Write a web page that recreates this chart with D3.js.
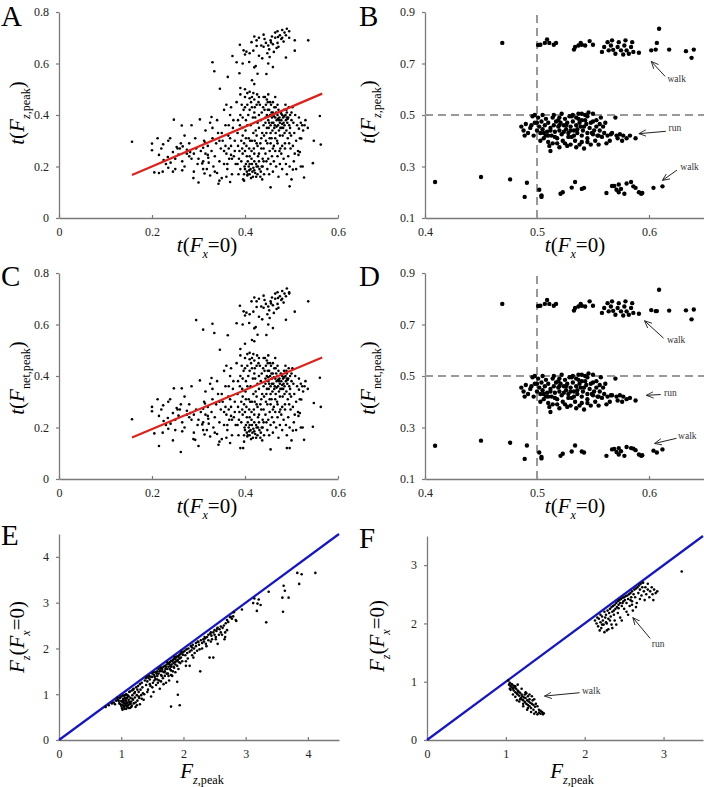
<!DOCTYPE html>
<html><head><meta charset="utf-8">
<script src="https://cdn.jsdelivr.net/npm/d3@7"></script>
<style>body{margin:0;background:#fff}svg{display:block}svg text{font-family:"Liberation Serif","Times New Roman","DejaVu Serif",serif}</style>
</head><body><svg id="c" width="704" height="787"></svg>
<script>
// ---------- DATA ----------
const ticksA = [0, 0.2, 0.4, 0.6], ticksAy = [0, 0.2, 0.4, 0.6, 0.8];
const ticksB = [0.4, 0.5, 0.6], ticksBy = [0.1, 0.3, 0.5, 0.7, 0.9];
const ticksE = [0, 1, 2, 3, 4], ticksF = [0, 1, 2, 3];

const pointsA = [
[0.157,0.296],[0.20,0.289],[0.20,0.263],[0.212,0.31],[0.205,0.177],[0.215,0.175],[0.223,0.18],[0.224,0.286],[0.239,0.31],[0.247,0.382],[0.234,0.237],[0.245,0.256],[0.253,0.276],[0.257,0.246],[0.264,0.359],[0.266,0.278],[0.275,0.25],[0.285,0.36],[0.282,0.256],[0.293,0.31],[0.289,0.155],[0.30,0.138],[0.303,0.383],[0.31,0.273],[0.308,0.212],[0.313,0.173],[0.314,0.293],[0.321,0.234],[0.328,0.392],[0.33,0.605],[0.334,0.57],[0.343,0.133],[0.346,0.502],[0.363,0.548],[0.368,0.14],[0.373,0.629],[0.388,0.562],[0.389,0.673],[0.382,0.605],[0.397,0.651],[0.403,0.646],[0.409,0.606],[0.414,0.683],[0.425,0.668],[0.423,0.59],[0.427,0.56],[0.44,0.712],[0.446,0.559],[0.453,0.625],[0.46,0.586],[0.471,0.703],[0.488,0.623],[0.495,0.725],[0.507,0.69],[0.507,0.65],[0.536,0.69],[0.561,0.396],[0.563,0.285],[0.546,0.213],[0.548,0.3],[0.527,0.157],[0.496,0.123],[0.455,0.119],[0.521,0.309],[0.518,0.256],[0.524,0.2],[0.503,0.188],[0.516,0.347],
[0.225,0.225],[0.23,0.21],[0.235,0.195],[0.24,0.215],[0.245,0.18],[0.25,0.23],[0.255,0.27],[0.26,0.27],[0.262,0.29],[0.265,0.22],[0.27,0.2],[0.275,0.265],[0.28,0.24],[0.285,0.23],[0.29,0.25],[0.295,0.27],[0.298,0.21],[0.27,0.32],[0.28,0.29],[0.235,0.30],[0.22,0.27],[0.215,0.245],[0.25,0.19],[0.265,0.185],[0.29,0.18],[0.30,0.23],
[0.305,0.26],[0.31,0.22],[0.312,0.30],[0.315,0.25],[0.318,0.19],[0.32,0.28],[0.322,0.215],[0.325,0.165],[0.328,0.26],[0.33,0.31],[0.332,0.20],[0.335,0.24],[0.338,0.29],[0.34,0.175],[0.342,0.33],[0.345,0.22],[0.348,0.27],[0.35,0.155],[0.352,0.30],[0.355,0.21],[0.358,0.36],[0.36,0.25],[0.362,0.19],[0.364,0.32],[0.366,0.23],[0.368,0.40],[0.37,0.28],[0.372,0.17],[0.374,0.35],[0.376,0.24],[0.378,0.30],[0.38,0.21],[0.34,0.38],[0.355,0.42],[0.36,0.44],[0.37,0.43],[0.33,0.35],[0.325,0.37],[0.315,0.34],[0.345,0.145],[0.36,0.16],[0.365,0.27],[0.355,0.26],[0.372,0.23],[0.345,0.30],[0.335,0.18],[0.32,0.245],[0.31,0.19],[0.362,0.21],[0.37,0.245],[0.378,0.26],[0.35,0.33],[0.375,0.38],[0.365,0.36],[0.358,0.28],[0.368,0.31],
[0.382,0.45],[0.384,0.33],[0.386,0.17],[0.388,0.26],[0.39,0.40],[0.392,0.22],[0.394,0.35],[0.396,0.15],[0.398,0.29],[0.40,0.47],[0.40,0.19],[0.402,0.38],[0.404,0.24],[0.405,0.44],[0.406,0.17],[0.408,0.31],[0.41,0.49],[0.41,0.21],[0.412,0.36],[0.414,0.26],[0.415,0.43],[0.416,0.18],[0.418,0.33],[0.42,0.46],[0.42,0.22],[0.422,0.39],[0.424,0.16],[0.425,0.29],[0.426,0.48],[0.428,0.20],[0.43,0.35],[0.43,0.25],[0.432,0.44],[0.434,0.18],[0.435,0.31],[0.436,0.41],[0.438,0.23],[0.44,0.47],[0.44,0.27],[0.39,0.48],[0.385,0.38],[0.392,0.30],[0.395,0.25],[0.397,0.42],[0.399,0.20],[0.401,0.34],[0.403,0.28],[0.406,0.22],[0.407,0.40],[0.409,0.185],[0.411,0.30],[0.413,0.45],[0.414,0.23],[0.417,0.39],[0.418,0.195],[0.419,0.27],[0.421,0.43],[0.423,0.34],[0.424,0.21],[0.427,0.37],[0.428,0.24],[0.429,0.45],[0.431,0.19],[0.433,0.29],[0.434,0.38],[0.437,0.33],[0.438,0.20],[0.439,0.43],[0.441,0.17],[0.384,0.21],[0.389,0.36],[0.393,0.44],[0.398,0.17],[0.402,0.21],[0.404,0.18],[0.408,0.20],[0.41,0.17],[0.412,0.19],[0.415,0.21],[0.417,0.16],[0.42,0.185],[0.422,0.175],[0.425,0.20],[0.427,0.17],[0.43,0.22],[0.433,0.16],[0.436,0.20],[0.405,0.165],[0.413,0.155],[0.41,0.24],[0.42,0.25],[0.40,0.26],[0.395,0.32],[0.425,0.32],[0.415,0.30],[0.435,0.27],[0.43,0.40],[0.42,0.41],[0.41,0.42],[0.40,0.43],[0.395,0.39],[0.405,0.36],[0.415,0.47],[0.425,0.44],[0.41,0.465],[0.405,0.485],[0.418,0.485],[0.43,0.47],[0.42,0.52],[0.415,0.535],[0.39,0.505],[0.40,0.50],[0.385,0.28],[0.39,0.19],[0.387,0.23],[0.398,0.145],[0.402,0.31],[0.427,0.28],[0.44,0.36],[0.437,0.15],[0.44,0.22],[0.421,0.30],[0.409,0.27],[0.394,0.27],
[0.442,0.42],[0.444,0.37],[0.445,0.44],[0.446,0.33],[0.447,0.40],[0.448,0.29],[0.449,0.45],[0.45,0.38],[0.451,0.35],[0.452,0.42],[0.453,0.26],[0.454,0.40],[0.455,0.36],[0.456,0.44],[0.457,0.31],[0.458,0.39],[0.459,0.34],[0.46,0.41],[0.461,0.37],[0.462,0.28],[0.463,0.43],[0.464,0.36],[0.465,0.39],[0.466,0.33],[0.467,0.41],[0.468,0.38],[0.469,0.30],[0.47,0.40],[0.471,0.36],[0.472,0.42],[0.473,0.34],[0.474,0.39],[0.475,0.37],[0.476,0.27],[0.477,0.41],[0.478,0.38],[0.479,0.35],[0.48,0.40],[0.481,0.32],[0.482,0.39],[0.483,0.37],[0.484,0.42],[0.485,0.36],[0.486,0.29],[0.487,0.40],[0.488,0.38],[0.489,0.34],[0.49,0.41],[0.491,0.37],[0.492,0.31],[0.493,0.39],[0.494,0.43],[0.495,0.36],[0.496,0.33],[0.497,0.40],[0.498,0.27],[0.50,0.38],[0.443,0.47],[0.447,0.46],[0.45,0.48],[0.444,0.25],[0.446,0.22],[0.448,0.19],[0.45,0.23],[0.452,0.17],[0.455,0.21],[0.458,0.24],[0.46,0.18],[0.462,0.22],[0.465,0.26],[0.467,0.20],[0.47,0.24],[0.472,0.16],[0.475,0.21],[0.478,0.25],[0.48,0.19],[0.483,0.23],[0.486,0.27],[0.488,0.21],[0.49,0.17],[0.493,0.24],[0.496,0.20],[0.50,0.15],[0.445,0.30],[0.455,0.29],[0.465,0.31],[0.475,0.32],[0.485,0.33],[0.46,0.45],[0.47,0.44],[0.455,0.33],[0.463,0.35],[0.473,0.38],[0.482,0.35],[0.449,0.42],[0.457,0.41],[0.466,0.43],[0.476,0.35],[0.487,0.44],[0.49,0.39],[0.50,0.41],[0.452,0.37],[0.447,0.35],[0.45,0.395],[0.458,0.37],[0.462,0.395],[0.468,0.355],[0.471,0.385],[0.478,0.405],[0.48,0.365],[0.484,0.395],[0.489,0.42],[0.492,0.385],[0.497,0.35],[0.46,0.27],[0.47,0.29],[0.48,0.28],[0.474,0.26],[0.453,0.31],[0.444,0.39],[0.441,0.32],[0.495,0.29],[0.499,0.32],[0.454,0.45],[0.465,0.47],
[0.502,0.43],[0.504,0.37],[0.506,0.33],[0.508,0.40],[0.51,0.30],[0.512,0.36],[0.514,0.26],[0.516,0.39],[0.505,0.22],[0.51,0.19],[0.515,0.245],[0.52,0.37],[0.518,0.31],[0.503,0.28],[0.507,0.25],[0.52,0.20],[0.523,0.36],[0.525,0.34],[0.528,0.36],[0.53,0.38],[0.535,0.35],
[0.445,0.68],[0.45,0.67],[0.455,0.69],[0.46,0.675],[0.465,0.70],[0.47,0.68],[0.475,0.71],[0.48,0.70],[0.485,0.72],[0.49,0.735],[0.478,0.695],[0.468,0.66],[0.452,0.655],[0.442,0.695],[0.458,0.705],[0.472,0.665],[0.483,0.685],[0.462,0.645],[0.448,0.64],[0.43,0.70],[0.435,0.67],[0.425,0.69],[0.42,0.705],[0.495,0.70],[0.488,0.71],[0.47,0.725],[0.48,0.73],[0.465,0.72],[0.44,0.665],[0.456,0.682],[0.418,0.65],[0.41,0.64],[0.43,0.63],[0.395,0.60],[0.40,0.635],[0.42,0.585],[0.437,0.62],[0.45,0.60]
];

const pointsC = [
[0.157,0.232],[0.20,0.28],[0.20,0.263],[0.212,0.31],[0.205,0.177],[0.215,0.128],[0.223,0.18],[0.224,0.286],[0.239,0.31],[0.247,0.352],[0.234,0.237],[0.245,0.256],[0.253,0.276],[0.257,0.246],[0.264,0.352],[0.262,0.105],[0.275,0.25],[0.285,0.36],[0.282,0.256],[0.293,0.152],[0.289,0.155],[0.30,0.128],[0.303,0.383],[0.31,0.273],[0.308,0.212],[0.313,0.173],[0.314,0.293],[0.321,0.234],[0.328,0.392],[0.33,0.603],[0.334,0.567],[0.343,0.133],[0.346,0.502],[0.363,0.558],[0.368,0.14],[0.295,0.617],[0.31,0.58],[0.389,0.673],[0.382,0.605],[0.397,0.651],[0.403,0.646],[0.409,0.606],[0.414,0.69],[0.425,0.668],[0.423,0.59],[0.427,0.56],[0.44,0.712],[0.446,0.559],[0.453,0.625],[0.46,0.586],[0.471,0.703],[0.488,0.618],[0.495,0.725],[0.507,0.65],[0.536,0.69],[0.561,0.393],[0.563,0.28],[0.546,0.203],[0.548,0.295],[0.527,0.152],[0.496,0.12],[0.455,0.115],[0.521,0.309],[0.518,0.256],[0.524,0.2],[0.503,0.188],[0.516,0.347],[0.49,0.12],
[0.225,0.225],[0.23,0.21],[0.235,0.195],[0.24,0.215],[0.245,0.15],[0.25,0.23],[0.255,0.27],[0.26,0.27],[0.262,0.29],[0.265,0.22],[0.27,0.2],[0.275,0.265],[0.28,0.24],[0.285,0.23],[0.29,0.25],[0.295,0.27],[0.298,0.21],[0.27,0.32],[0.28,0.29],[0.235,0.30],[0.22,0.27],[0.215,0.245],[0.25,0.19],[0.265,0.185],[0.29,0.18],[0.30,0.23],
[0.305,0.26],[0.31,0.22],[0.312,0.30],[0.315,0.25],[0.318,0.19],[0.32,0.28],[0.322,0.215],[0.325,0.165],[0.328,0.26],[0.33,0.31],[0.332,0.20],[0.335,0.24],[0.338,0.29],[0.34,0.175],[0.342,0.33],[0.345,0.22],[0.348,0.27],[0.35,0.155],[0.352,0.30],[0.355,0.21],[0.358,0.36],[0.36,0.25],[0.362,0.19],[0.364,0.32],[0.366,0.23],[0.368,0.40],[0.37,0.28],[0.372,0.17],[0.374,0.35],[0.376,0.24],[0.378,0.30],[0.38,0.21],[0.34,0.38],[0.355,0.42],[0.36,0.44],[0.37,0.43],[0.33,0.35],[0.325,0.37],[0.315,0.34],[0.345,0.145],[0.36,0.16],[0.365,0.27],[0.355,0.26],[0.372,0.23],[0.345,0.30],[0.335,0.18],[0.32,0.245],[0.31,0.19],[0.362,0.21],[0.37,0.245],[0.378,0.26],[0.35,0.33],[0.375,0.38],[0.365,0.36],[0.358,0.28],[0.368,0.31],
[0.382,0.45],[0.384,0.33],[0.386,0.17],[0.388,0.26],[0.39,0.40],[0.392,0.22],[0.394,0.35],[0.396,0.12],[0.398,0.29],[0.40,0.47],[0.40,0.19],[0.402,0.38],[0.404,0.24],[0.405,0.44],[0.406,0.17],[0.408,0.31],[0.41,0.49],[0.41,0.21],[0.412,0.36],[0.414,0.26],[0.415,0.43],[0.416,0.18],[0.418,0.33],[0.42,0.46],[0.42,0.22],[0.422,0.39],[0.424,0.16],[0.425,0.29],[0.426,0.48],[0.428,0.20],[0.43,0.35],[0.43,0.25],[0.432,0.44],[0.434,0.18],[0.435,0.31],[0.436,0.41],[0.438,0.23],[0.44,0.47],[0.44,0.27],[0.39,0.48],[0.385,0.38],[0.392,0.30],[0.395,0.25],[0.397,0.42],[0.399,0.20],[0.401,0.34],[0.403,0.28],[0.406,0.22],[0.407,0.40],[0.409,0.185],[0.411,0.30],[0.413,0.45],[0.414,0.23],[0.417,0.39],[0.418,0.195],[0.419,0.27],[0.421,0.43],[0.423,0.34],[0.424,0.21],[0.427,0.37],[0.428,0.24],[0.429,0.45],[0.431,0.19],[0.433,0.29],[0.434,0.38],[0.437,0.33],[0.438,0.20],[0.439,0.43],[0.441,0.17],[0.384,0.21],[0.389,0.36],[0.393,0.44],[0.398,0.17],[0.402,0.21],[0.404,0.18],[0.408,0.20],[0.41,0.17],[0.412,0.19],[0.415,0.21],[0.417,0.16],[0.42,0.185],[0.422,0.175],[0.425,0.20],[0.427,0.17],[0.43,0.22],[0.433,0.16],[0.436,0.20],[0.405,0.165],[0.413,0.155],[0.41,0.24],[0.42,0.25],[0.40,0.26],[0.395,0.32],[0.425,0.32],[0.415,0.30],[0.435,0.27],[0.43,0.40],[0.42,0.41],[0.41,0.42],[0.40,0.43],[0.395,0.39],[0.405,0.36],[0.415,0.47],[0.425,0.44],[0.41,0.465],[0.405,0.485],[0.418,0.485],[0.43,0.47],[0.42,0.535],[0.415,0.54],[0.39,0.505],[0.40,0.525],[0.385,0.28],[0.39,0.12],[0.387,0.23],[0.398,0.145],[0.402,0.31],[0.427,0.28],[0.44,0.36],[0.437,0.15],[0.44,0.22],[0.421,0.30],[0.409,0.27],[0.394,0.27],
[0.442,0.42],[0.444,0.37],[0.445,0.44],[0.446,0.33],[0.447,0.40],[0.448,0.29],[0.449,0.45],[0.45,0.38],[0.451,0.35],[0.452,0.42],[0.453,0.26],[0.454,0.40],[0.455,0.36],[0.456,0.44],[0.457,0.31],[0.458,0.39],[0.459,0.34],[0.46,0.41],[0.461,0.37],[0.462,0.28],[0.463,0.43],[0.464,0.36],[0.465,0.39],[0.466,0.33],[0.467,0.41],[0.468,0.38],[0.469,0.30],[0.47,0.40],[0.471,0.36],[0.472,0.42],[0.473,0.34],[0.474,0.39],[0.475,0.37],[0.476,0.27],[0.477,0.41],[0.478,0.38],[0.479,0.35],[0.48,0.40],[0.481,0.32],[0.482,0.39],[0.483,0.37],[0.484,0.42],[0.485,0.36],[0.486,0.29],[0.487,0.40],[0.488,0.38],[0.489,0.34],[0.49,0.41],[0.491,0.37],[0.492,0.31],[0.493,0.39],[0.494,0.43],[0.495,0.36],[0.496,0.33],[0.497,0.40],[0.498,0.27],[0.50,0.38],[0.443,0.47],[0.447,0.46],[0.45,0.48],[0.444,0.25],[0.446,0.22],[0.448,0.19],[0.45,0.23],[0.452,0.17],[0.455,0.21],[0.458,0.24],[0.46,0.18],[0.462,0.22],[0.465,0.26],[0.467,0.20],[0.47,0.24],[0.472,0.16],[0.475,0.21],[0.478,0.25],[0.48,0.19],[0.483,0.23],[0.486,0.27],[0.488,0.21],[0.49,0.17],[0.493,0.24],[0.496,0.20],[0.50,0.15],[0.445,0.30],[0.455,0.29],[0.465,0.31],[0.475,0.32],[0.485,0.33],[0.46,0.45],[0.47,0.44],[0.455,0.33],[0.463,0.35],[0.473,0.38],[0.482,0.35],[0.449,0.42],[0.457,0.41],[0.466,0.43],[0.476,0.35],[0.487,0.44],[0.49,0.39],[0.50,0.41],[0.452,0.37],[0.447,0.35],[0.45,0.395],[0.458,0.37],[0.462,0.395],[0.468,0.355],[0.471,0.385],[0.478,0.405],[0.48,0.365],[0.484,0.395],[0.489,0.42],[0.492,0.385],[0.497,0.35],[0.46,0.27],[0.47,0.29],[0.48,0.28],[0.474,0.26],[0.453,0.31],[0.444,0.39],[0.441,0.32],[0.495,0.29],[0.499,0.32],[0.454,0.45],[0.465,0.47],
[0.502,0.43],[0.504,0.37],[0.506,0.33],[0.508,0.40],[0.51,0.30],[0.512,0.36],[0.514,0.26],[0.516,0.39],[0.505,0.22],[0.51,0.19],[0.515,0.245],[0.52,0.37],[0.518,0.31],[0.503,0.28],[0.507,0.25],[0.52,0.20],[0.523,0.36],[0.525,0.34],[0.528,0.36],[0.53,0.38],[0.535,0.35],
[0.445,0.68],[0.45,0.67],[0.455,0.69],[0.46,0.675],[0.465,0.70],[0.47,0.68],[0.475,0.71],[0.48,0.70],[0.485,0.72],[0.49,0.74],[0.478,0.695],[0.468,0.66],[0.452,0.655],[0.442,0.695],[0.458,0.705],[0.472,0.665],[0.483,0.685],[0.462,0.645],[0.448,0.64],[0.43,0.70],[0.435,0.67],[0.425,0.69],[0.42,0.705],[0.495,0.72],[0.488,0.71],[0.47,0.725],[0.48,0.73],[0.465,0.72],[0.44,0.665],[0.456,0.682],[0.418,0.65],[0.41,0.64],[0.43,0.63],[0.395,0.60],[0.40,0.635],[0.42,0.585],[0.437,0.62],[0.45,0.60]
];

const fitA = {x: [0.157, 0.566], y: [0.167, 0.483]};
const fitC = {x: [0.157, 0.566], y: [0.161, 0.472]};

const walkTopB = [[0.469,0.78],[0.501,0.772],[0.503,0.773],[0.507,0.78],[0.509,0.793],[0.511,0.78],[0.517,0.78],[0.515,0.773],[0.533,0.754],[0.534,0.764],[0.537,0.77],[0.539,0.78],[0.540,0.773],[0.543,0.77],[0.547,0.787],[0.550,0.773],[0.558,0.745],[0.56,0.764],[0.563,0.783],[0.564,0.751],[0.566,0.77],[0.567,0.79],[0.568,0.753],[0.570,0.738],[0.572,0.764],[0.573,0.783],[0.575,0.751],[0.577,0.735],[0.578,0.77],[0.579,0.79],[0.58,0.751],[0.582,0.738],[0.584,0.764],[0.585,0.783],[0.586,0.745],[0.591,0.742],[0.602,0.751],[0.606,0.754],[0.607,0.78],[0.609,0.835],[0.618,0.754],[0.633,0.748],[0.638,0.722],[0.64,0.754]];
const runB = [[0.486,0.455],[0.488,0.44],[0.49,0.465],[0.492,0.43],[0.494,0.45],[0.496,0.495],[0.497,0.42],[0.498,0.47],[0.50,0.44],[0.501,0.49],[0.502,0.455],[0.503,0.43],[0.504,0.475],[0.505,0.445],[0.506,0.41],[0.507,0.46],[0.508,0.485],[0.509,0.435],[0.51,0.395],[0.51,0.47],[0.511,0.38],[0.512,0.45],[0.513,0.42],[0.514,0.49],[0.515,0.46],[0.516,0.435],[0.517,0.475],[0.518,0.41],[0.519,0.455],[0.52,0.49],[0.52,0.44],[0.521,0.47],[0.522,0.425],[0.523,0.40],[0.524,0.46],[0.525,0.485],[0.526,0.445],[0.527,0.38],[0.527,0.47],[0.528,0.43],[0.529,0.495],[0.53,0.455],[0.53,0.385],[0.531,0.415],[0.532,0.475],[0.533,0.44],[0.534,0.40],[0.535,0.49],[0.535,0.46],[0.536,0.43],[0.537,0.505],[0.538,0.385],[0.539,0.455],[0.54,0.48],[0.54,0.42],[0.541,0.44],[0.542,0.37],[0.543,0.50],[0.544,0.465],[0.545,0.41],[0.546,0.51],[0.547,0.45],[0.548,0.385],[0.549,0.43],[0.55,0.475],[0.551,0.44],[0.552,0.40],[0.553,0.455],[0.554,0.42],[0.555,0.385],[0.556,0.44],[0.557,0.49],[0.558,0.415],[0.56,0.43],[0.562,0.39],[0.563,0.42],[0.565,0.40],[0.567,0.43],[0.57,0.49],[0.571,0.42],[0.572,0.41],[0.574,0.425],[0.576,0.40],[0.577,0.42],[0.58,0.41],[0.583,0.42],[0.588,0.41],[0.512,0.36],[0.505,0.50],[0.498,0.50],[0.515,0.50],[0.522,0.505],[0.532,0.50],[0.54,0.505],[0.545,0.495],[0.55,0.505],[0.525,0.39],[0.535,0.375],[0.545,0.395],[0.528,0.415],[0.518,0.39],[0.508,0.42],[0.50,0.47],[0.495,0.46],[0.489,0.42],[0.512,0.44],[0.519,0.48],[0.526,0.46],[0.533,0.42],[0.538,0.47],[0.542,0.455],[0.548,0.47],[0.553,0.48],[0.556,0.465],[0.559,0.455],[0.561,0.47],[0.555,0.42],[0.545,0.43],[0.536,0.445],[0.524,0.435],[0.516,0.415],[0.51,0.42],[0.52,0.46],[0.53,0.44],[0.54,0.395],[0.55,0.425],[0.566,0.425],[0.52,0.375],[0.514,0.39],[0.506,0.43],[0.503,0.40],[0.531,0.495],[0.537,0.485],[0.543,0.48]];
const walkLowB = [[0.409,0.24],[0.45,0.259],[0.476,0.25],[0.491,0.237],[0.489,0.182],[0.502,0.21],[0.504,0.188],[0.504,0.182],[0.521,0.194],[0.523,0.20],[0.531,0.218],[0.534,0.24],[0.540,0.213],[0.542,0.217],[0.562,0.197],[0.567,0.224],[0.569,0.224],[0.571,0.21],[0.573,0.23],[0.573,0.20],[0.575,0.213],[0.578,0.194],[0.58,0.234],[0.584,0.24],[0.586,0.223],[0.588,0.217],[0.591,0.20],[0.593,0.194],[0.594,0.197],[0.604,0.217],[0.612,0.223]];
const walkTopD = [[0.469,0.78],[0.501,0.772],[0.503,0.773],[0.507,0.78],[0.509,0.795],[0.511,0.78],[0.517,0.78],[0.515,0.773],[0.533,0.754],[0.534,0.764],[0.537,0.77],[0.539,0.78],[0.540,0.773],[0.543,0.77],[0.547,0.79],[0.550,0.773],[0.558,0.745],[0.56,0.764],[0.563,0.783],[0.564,0.751],[0.566,0.77],[0.567,0.79],[0.568,0.753],[0.570,0.738],[0.572,0.764],[0.573,0.783],[0.575,0.751],[0.577,0.735],[0.578,0.77],[0.579,0.79],[0.58,0.751],[0.582,0.738],[0.584,0.764],[0.585,0.783],[0.586,0.745],[0.591,0.742],[0.602,0.756],[0.606,0.752],[0.607,0.752],[0.609,0.835],[0.618,0.754],[0.633,0.755],[0.638,0.72],[0.64,0.758]];
const runD = [[0.486,0.455],[0.488,0.44],[0.49,0.465],[0.492,0.43],[0.494,0.45],[0.496,0.495],[0.497,0.42],[0.498,0.47],[0.50,0.44],[0.501,0.49],[0.502,0.455],[0.503,0.43],[0.504,0.475],[0.505,0.445],[0.506,0.41],[0.507,0.46],[0.508,0.485],[0.509,0.435],[0.51,0.395],[0.51,0.47],[0.511,0.38],[0.512,0.45],[0.513,0.42],[0.514,0.49],[0.515,0.46],[0.516,0.435],[0.517,0.475],[0.518,0.41],[0.519,0.455],[0.52,0.49],[0.52,0.44],[0.521,0.47],[0.522,0.425],[0.523,0.40],[0.524,0.46],[0.525,0.485],[0.526,0.445],[0.527,0.38],[0.527,0.47],[0.528,0.43],[0.529,0.495],[0.53,0.455],[0.53,0.385],[0.531,0.415],[0.532,0.475],[0.533,0.44],[0.534,0.40],[0.535,0.49],[0.535,0.46],[0.536,0.43],[0.537,0.505],[0.538,0.385],[0.539,0.455],[0.54,0.48],[0.54,0.42],[0.541,0.44],[0.542,0.37],[0.543,0.50],[0.544,0.465],[0.545,0.41],[0.546,0.51],[0.547,0.45],[0.548,0.385],[0.549,0.43],[0.55,0.475],[0.551,0.44],[0.552,0.40],[0.553,0.455],[0.554,0.42],[0.555,0.385],[0.556,0.44],[0.557,0.495],[0.558,0.415],[0.56,0.43],[0.562,0.39],[0.563,0.42],[0.565,0.40],[0.567,0.425],[0.57,0.49],[0.571,0.42],[0.572,0.405],[0.574,0.425],[0.576,0.40],[0.577,0.42],[0.58,0.41],[0.583,0.415],[0.588,0.405],[0.512,0.36],[0.505,0.50],[0.498,0.50],[0.515,0.50],[0.522,0.505],[0.532,0.50],[0.54,0.505],[0.545,0.495],[0.55,0.505],[0.525,0.39],[0.535,0.375],[0.545,0.395],[0.528,0.415],[0.518,0.39],[0.508,0.42],[0.50,0.47],[0.495,0.46],[0.489,0.42],[0.512,0.44],[0.519,0.48],[0.526,0.46],[0.533,0.42],[0.538,0.47],[0.542,0.455],[0.548,0.47],[0.553,0.48],[0.556,0.465],[0.559,0.455],[0.561,0.47],[0.555,0.42],[0.545,0.43],[0.536,0.445],[0.524,0.435],[0.516,0.415],[0.51,0.42],[0.52,0.46],[0.53,0.44],[0.54,0.395],[0.55,0.425],[0.566,0.425],[0.52,0.375],[0.514,0.39],[0.506,0.43],[0.503,0.40],[0.531,0.495],[0.537,0.485],[0.543,0.48]];
const walkLowD = [[0.409,0.229],[0.45,0.249],[0.476,0.241],[0.491,0.23],[0.489,0.178],[0.502,0.203],[0.504,0.186],[0.504,0.18],[0.521,0.19],[0.523,0.198],[0.531,0.207],[0.534,0.23],[0.540,0.207],[0.542,0.203],[0.562,0.19],[0.567,0.215],[0.569,0.217],[0.571,0.205],[0.573,0.22],[0.573,0.195],[0.575,0.208],[0.578,0.19],[0.58,0.224],[0.584,0.22],[0.586,0.218],[0.588,0.212],[0.591,0.195],[0.593,0.19],[0.594,0.192],[0.604,0.21],[0.607,0.203],[0.612,0.215]];

const annotB = [
  {label: "walk", tx: 0.6165, ty: 0.628, x1: 0.6144, y1: 0.650, x2: 0.602, y2: 0.708},
  {label: "run",  tx: 0.6175, ty: 0.436, x1: 0.615,  y1: 0.4366, x2: 0.591, y2: 0.4275},
  {label: "walk", tx: 0.628,  ty: 0.288, x1: 0.625,  y1: 0.286, x2: 0.612, y2: 0.246}
];
const annotD = [
  {label: "walk", tx: 0.616, ty: 0.630, x1: 0.613, y1: 0.647, x2: 0.596, y2: 0.7145},
  {label: "run",  tx: 0.6135, ty: 0.421, x1: 0.6105, y1: 0.428, x2: 0.5976, y2: 0.425},
  {label: "walk", tx: 0.626, ty: 0.254, x1: 0.6245, y1: 0.258, x2: 0.605, y2: 0.238}
];

const pointsE = [
[0.75,0.72],[0.8,0.76],[0.85,0.80],[0.88,0.82],[0.9,0.78],[0.92,0.86],[0.95,0.88],[0.97,0.80],[0.98,0.92],[1.0,0.95],[1.0,0.85],[1.0,0.75],[1.01,0.70],[1.02,0.66],[1.03,0.90],[1.04,0.80],[1.05,0.72],[1.05,0.97],[1.06,0.86],[1.07,0.76],[1.08,0.68],[1.08,1.0],[1.09,0.92],[1.1,0.82],[1.1,0.72],[1.11,0.96],[1.12,0.88],[1.13,0.78],[1.13,1.05],[1.14,0.70],[1.15,0.92],[1.16,0.84],[1.17,1.08],[1.17,0.75],[1.18,0.98],[1.19,0.88],[1.2,1.12],[1.2,0.80],[1.21,1.02],[1.22,0.93],[1.23,0.72],[1.24,1.15],[1.25,0.98],[1.26,0.86],[1.27,1.18],[1.28,1.05],[1.29,0.92],[1.3,1.22],[1.3,0.78],[1.31,1.10],[1.32,0.98],[1.33,1.25],[1.34,1.15],[1.35,1.02],[1.36,0.88],[0.99,0.78],[1.02,0.83],[1.06,0.92],[1.04,0.74],[1.08,0.86],[1.12,0.95],[1.15,0.80],[1.18,0.90],[1.22,1.05],[1.26,1.10],[1.1,0.98],[1.03,0.97],[0.96,0.85],[0.94,0.92],[1.07,0.99],[1.14,1.06],[1.19,1.10],[1.11,0.76],[1.16,0.72],[1.09,0.80],[1.23,0.82],[1.28,0.95],[1.33,0.90],[1.37,1.0],[1.25,0.76],[1.02,0.76],[1.06,0.80],[1.05,0.68],[1.12,0.70],[1.03,0.86],[1.09,0.74],[1.13,0.83],[1.07,0.90],
[1.38,1.30],[1.4,1.35],[1.4,1.20],[1.42,1.28],[1.43,1.10],[1.45,1.40],[1.46,1.32],[1.47,1.18],[1.48,0.95],[1.5,1.45],[1.5,1.38],[1.51,1.25],[1.52,1.05],[1.53,1.42],[1.55,1.48],[1.55,1.33],[1.56,1.20],[1.58,1.50],[1.58,1.40],[1.6,1.55],[1.6,1.45],[1.61,1.30],[1.62,1.12],[1.63,1.52],[1.64,1.42],[1.65,1.58],[1.66,1.50],[1.67,1.35],[1.68,1.60],[1.69,1.48],[1.7,1.62],[1.7,1.40],[1.71,1.55],[1.72,1.25],[1.73,1.65],[1.74,1.55],[1.75,1.68],[1.75,1.45],[1.76,1.60],[1.77,1.30],[1.78,1.70],[1.79,1.62],[1.8,1.73],[1.8,1.52],[1.81,1.65],[1.82,1.40],[1.83,1.75],[1.84,1.68],[1.85,1.78],[1.85,1.58],[1.86,1.70],[1.87,1.48],[1.88,1.80],[1.89,1.72],[1.9,1.83],[1.9,1.62],[1.91,1.75],[1.92,1.55],[1.93,1.85],[1.94,1.78],[1.95,1.88],[1.95,1.68],[1.96,1.80],[1.97,1.90],[1.98,1.72],[2.0,1.92],[1.44,1.36],[1.48,1.38],[1.53,1.30],[1.57,1.45],[1.62,1.50],[1.66,1.55],[1.72,1.60],[1.77,1.66],[1.82,1.72],[1.87,1.76],[1.92,1.82],[1.99,1.86],[1.46,1.22],[1.54,1.38],[1.59,1.25],[1.65,1.40],[1.7,1.50],[1.78,1.55],[1.84,1.60],[1.42,1.05],[1.5,1.15],[1.58,1.32],[1.64,1.28],[1.73,1.45],[1.8,1.60],[1.87,1.65],[1.93,1.70],[1.90,1.27],[1.8,1.42],[1.76,1.40],[1.68,1.22],[1.83,1.50],[1.41,1.38],[1.52,1.48],[1.63,1.58],[1.74,1.70],[1.86,1.82],[1.97,1.93],
[2.02,1.95],[2.03,1.85],[2.05,1.98],[2.06,1.90],[2.07,1.78],[2.08,2.0],[2.1,1.93],[2.1,1.62],[2.12,2.05],[2.13,1.96],[2.14,1.85],[2.15,2.08],[2.17,2.0],[2.18,1.90],[2.2,2.12],[2.2,2.05],[2.22,1.95],[2.23,2.15],[2.25,2.08],[2.26,1.98],[2.27,1.50],[2.28,2.18],[2.3,2.12],[2.32,2.20],[2.33,2.15],[2.35,2.22],[2.36,2.10],[2.38,2.25],[2.4,2.18],[2.4,2.30],[2.42,1.80],[2.43,2.32],[2.45,2.28],[2.46,2.20],[2.48,1.80],[2.48,2.35],[2.5,2.30],[2.5,2.40],[2.52,2.25],[2.53,2.38],[2.55,2.45],[2.55,2.10],[2.58,2.42],[2.6,2.48],[2.6,2.35],[2.62,2.30],[2.63,2.45],[2.65,2.50],[2.66,2.20],[2.67,2.25],[2.67,2.35],[2.68,2.55],[2.7,2.62],[2.72,2.58],[2.75,2.68],[2.78,2.65],[2.8,2.70],[2.04,1.72],[2.16,1.80],[2.3,2.0],[2.37,2.05],[2.44,2.15],[2.52,2.20],[2.57,2.30],[2.7,2.40],[2.14,2.02],[2.24,2.14],[2.34,2.25],[2.44,2.35],[2.54,2.43],[2.04,1.62],
[2.76,2.69],[2.81,2.79],[2.84,2.62],[2.85,2.60],[2.94,2.85],[3.12,2.99],[3.14,3.09],[3.18,2.82],[3.19,2.98],[3.21,3.07],[3.24,2.95],[3.33,2.57],[3.37,3.24],[3.59,3.11],[3.60,2.80],[3.61,3.37],[3.63,3.26],[3.69,3.11],[3.83,3.65],[3.86,3.41],[3.90,3.62],[4.12,3.65],[1.80,0.73],[1.91,0.99],[1.94,0.76]
];
const diagE = [0, 4.5];

const runF = [[2.13,2.05],[2.15,2.0],[2.16,2.10],[2.17,1.95],[2.18,2.08],[2.19,1.88],[2.2,2.15],[2.2,2.02],[2.21,1.92],[2.22,2.12],[2.23,2.05],[2.24,1.98],[2.25,2.20],[2.25,1.85],[2.26,2.10],[2.27,2.15],[2.28,2.0],[2.29,2.22],[2.3,2.08],[2.3,1.9],[2.31,2.18],[2.32,2.25],[2.33,2.12],[2.34,2.28],[2.34,1.98],[2.35,2.20],[2.36,2.30],[2.37,2.15],[2.38,2.32],[2.38,2.05],[2.39,2.25],[2.4,2.35],[2.41,2.28],[2.42,2.38],[2.42,2.18],[2.43,2.32],[2.44,2.40],[2.45,2.35],[2.45,2.10],[2.46,2.42],[2.47,2.30],[2.48,2.44],[2.49,2.38],[2.5,2.45],[2.5,2.25],[2.51,2.40],[2.52,2.47],[2.53,2.35],[2.54,2.48],[2.55,2.42],[2.55,2.15],[2.56,2.50],[2.57,2.30],[2.58,2.52],[2.59,2.45],[2.6,2.55],[2.6,2.38],[2.61,2.22],[2.62,2.50],[2.63,2.58],[2.64,2.45],[2.65,2.60],[2.66,2.35],[2.67,2.62],[2.68,2.52],[2.69,2.65],[2.7,2.58],[2.7,2.42],[2.71,2.68],[2.72,2.48],[2.73,2.62],[2.74,2.70],[2.75,2.55],[2.76,2.40],[2.77,2.62],[2.78,2.50],[2.8,2.58],[2.8,2.68],[2.82,2.45],[2.83,2.55],[2.85,2.62],[2.86,2.50],[2.87,2.40],[2.88,2.58],[2.9,2.52],[2.92,2.55],[2.6,2.32],[2.65,2.28],[2.53,2.20],[2.47,2.05],[2.4,1.98],[2.35,1.92],[2.28,1.88],[2.58,2.40],[2.48,2.35],[2.43,2.26],[2.37,2.22],[2.32,2.05],[2.27,2.02],[2.22,1.98],[3.23,2.89]];
const walkF = [[1.03,1.02],[1.04,0.95],[1.05,0.98],[1.06,0.92],[1.07,0.96],[1.08,0.90],[1.08,0.95],[1.09,0.88],[1.1,0.93],[1.1,0.85],[1.11,0.90],[1.12,0.82],[1.13,0.88],[1.14,0.80],[1.15,0.85],[1.15,0.78],[1.16,0.83],[1.17,0.76],[1.18,0.81],[1.19,0.72],[1.2,0.78],[1.2,0.70],[1.21,0.75],[1.22,0.68],[1.23,0.73],[1.24,0.65],[1.25,0.72],[1.26,0.62],[1.27,0.68],[1.28,0.75],[1.28,0.60],[1.29,0.66],[1.3,0.70],[1.3,0.58],[1.31,0.64],[1.32,0.55],[1.33,0.62],[1.34,0.68],[1.35,0.52],[1.35,0.60],[1.36,0.45],[1.37,0.57],[1.38,0.48],[1.4,0.44],[1.42,0.47],[1.44,0.45],[1.46,0.48],[1.48,0.46],[1.12,0.92],[1.06,0.86],[1.18,0.70],[1.24,0.78],[1.26,0.80],[1.22,0.62],[1.15,0.95],[1.2,0.88],[1.25,0.82],[1.3,0.78],[1.33,0.75],[1.28,0.55],[1.22,0.58],[1.17,0.66],[1.12,0.74],[1.36,0.70],[1.38,0.62],[1.4,0.58],[1.42,0.52],[1.44,0.50],[1.47,0.44],[1.32,0.48],[1.27,0.52],[1.09,0.78],[1.05,0.88],[1.14,0.68]];
const diagF = [0, 3.5];
const annotF = [
  {label: "run",  tx: 2.85, ty: 1.60, x1: 2.83, y1: 1.743, x2: 2.61, y2: 2.10},
  {label: "walk", tx: 1.965, ty: 0.789, x1: 1.935, y1: 0.811, x2: 1.49, y2: 0.754}
];

// ---------- DRAWING ----------
const FONT = '"Liberation Serif","Times New Roman","DejaVu Serif",serif';
const svg = d3.select('#c');
const defs = svg.append('defs');
defs.append('marker').attr('id','arr').attr('viewBox','0 -5 10 10')
  .attr('refX',9).attr('refY',0).attr('markerWidth',8).attr('markerHeight',8)
  .attr('markerUnits','userSpaceOnUse').attr('orient','auto')
  .append('path').attr('d','M0,-4L9,0L0,4').attr('fill','none').attr('stroke','#222').attr('stroke-width',1.1);

function richText(g, parts, size) {
  parts.forEach(p => {
    const ts = g.append('tspan').text(p.t)
      .style('font-style', p.i ? 'italic' : 'normal');
    if (p.sub) {
      ts.style('font-size', (size * 0.58) + 'px').attr('dy', p.dy || size * 0.28);
    } else {
      ts.style('font-size', size + 'px');
      if (p.dy) ts.attr('dy', p.dy);
    }
  });
}

function panel(c) {
  const x = d3.scaleLinear().domain(c.xd).range(c.xr);
  const y = d3.scaleLinear().domain(c.yd).range(c.yr);
  const g = svg.append('g');
  const fmt = d => d === 0 ? '0' : (c.intTicks ? d3.format('d')(d) : d3.format('.1f')(d));
  const ax = g.append('g').attr('transform', `translate(0,${c.yr[0]})`)
    .call(d3.axisBottom(x).tickValues(c.xt).tickSizeInner(-3).tickSizeOuter(0).tickPadding(9).tickFormat(fmt));
  const ay = g.append('g').attr('transform', `translate(${c.xr[0]},0)`)
    .call(d3.axisLeft(y).tickValues(c.yt).tickSizeInner(3).tickSizeOuter(0).tickPadding(7).tickFormat(fmt));
  [ax, ay].forEach(a => {
    a.attr('font-family', null).attr('font-size', null);
    a.select('.domain').attr('stroke', '#7a7a7a').attr('stroke-width', 1.3);
    a.selectAll('.tick line').attr('stroke', '#7a7a7a').attr('stroke-width', 1.2);
    a.selectAll('.tick text').style('font-family', FONT).style('font-size', '12px').attr('fill', '#222');
  });
  if (c.ref) {
    g.append('line').attr('x1', x(c.ref.x)).attr('x2', x(c.ref.x)).attr('y1', y(c.yd[0])).attr('y2', y(c.yd[1]))
      .attr('stroke', '#999').attr('stroke-width', 2).attr('stroke-dasharray', '8,5');
    g.append('line').attr('x1', x(c.xd[0])).attr('x2', x(c.xd[1])).attr('y1', y(c.ref.y)).attr('y2', y(c.ref.y))
      .attr('stroke', '#999').attr('stroke-width', 2).attr('stroke-dasharray', '8,5');
  }
  if (c.diag) {
    g.append('line').attr('x1', x(c.diag[0])).attr('y1', y(c.diag[0])).attr('x2', x(c.diag[1])).attr('y2', y(c.diag[1]))
      .attr('stroke', '#1515c8').attr('stroke-width', 2.2);
  }
  g.append('g').selectAll('circle').data(c.pts).join('circle')
    .attr('cx', d => x(d[0])).attr('cy', d => y(d[1])).attr('r', c.r).attr('fill', '#000');
  if (c.fit) {
    g.append('line').attr('x1', x(c.fit.x[0])).attr('y1', y(c.fit.y[0])).attr('x2', x(c.fit.x[1])).attr('y2', y(c.fit.y[1]))
      .attr('stroke', '#e0201a').attr('stroke-width', 2.2);
  }
  if (c.annot) {
    c.annot.forEach(a => {
      g.append('line').attr('x1', x(a.x1)).attr('y1', y(a.y1)).attr('x2', x(a.x2)).attr('y2', y(a.y2))
        .attr('stroke', '#222').attr('stroke-width', 1).attr('marker-end', 'url(#arr)');
      g.append('text').attr('x', x(a.tx)).attr('y', y(a.ty)).text(a.label)
        .style('font-family', FONT).style('font-size', '9.5px').attr('fill', '#333');
    });
  }
  svg.append('text').attr('x', c.lab[1]).attr('y', c.lab[2]).text(c.lab[0])
    .style('font-family', FONT).style('font-size', '29px').attr('fill', '#000');
  const xt = svg.append('text').attr('x', c.xtit[0]).attr('y', c.xtit[1]).attr('text-anchor', 'middle')
    .style('font-family', FONT).attr('fill', '#000');
  richText(xt, c.xtit[2], 21);
  const yt = svg.append('text').attr('transform', `translate(${c.ytit[0]},${c.ytit[1]}) rotate(-90)`)
    .attr('text-anchor', 'middle').style('font-family', FONT).attr('fill', '#000');
  richText(yt, c.ytit[2], 21);
}

const tFx0 = [{t:'t', i:true},{t:'(', i:false},{t:'F', i:true},{t:'x', i:true, sub:true},{t:'=0)', i:false, dy:-21*0.28}];
const tFz = [{t:'t', i:true},{t:'(', i:false},{t:'F', i:true},{t:'z', i:true, sub:true},{t:',peak', i:false, sub:true, dy:0.0001},{t:')', i:false, dy:-21*0.28}];
const tFnet = [{t:'t', i:true},{t:'(', i:false},{t:'F', i:true},{t:'net,peak', i:false, sub:true},{t:')', i:false, dy:-21*0.28}];
const Fzpeak = [{t:'F', i:true},{t:'z', i:true, sub:true},{t:',peak', i:false, sub:true, dy:0.0001}];
const FzFx0 = [{t:'F', i:true},{t:'z', i:true, sub:true},{t:'(', i:false, dy:-21*0.28},{t:'F', i:true},{t:'x', i:true, sub:true},{t:'=0)', i:false, dy:-21*0.28}];

panel({xd:[0,0.6], yd:[0,0.8], xr:[59,338], yr:[218,12], xt:ticksA, yt:ticksAy, pts:pointsA, r:1.3, fit:fitA,
  lab:['A',1,26], xtit:[207,252,tFx0], ytit:[24,113,tFz]});
panel({xd:[0.4,0.65], yd:[0.1,0.9], xr:[425,705], yr:[218,12], xt:ticksB, yt:ticksBy, pts:walkTopB.concat(runB, walkLowB), r:2.2,
  ref:{x:0.5, y:0.5}, annot:annotB, lab:['B',359,26], xtit:[575,252,tFx0], ytit:[375,112,tFz]});
panel({xd:[0,0.6], yd:[0,0.8], xr:[59,338], yr:[479,273], xt:ticksA, yt:ticksAy, pts:pointsC, r:1.3, fit:fitC,
  lab:['C',1,286], xtit:[207,513,tFx0], ytit:[24,378,tFnet]});
panel({xd:[0.4,0.65], yd:[0.1,0.9], xr:[425,705], yr:[479,273], xt:ticksB, yt:ticksBy, pts:walkTopD.concat(runD, walkLowD), r:2.2,
  ref:{x:0.5, y:0.5}, annot:annotD, lab:['D',359,286], xtit:[575,513,tFx0], ytit:[375,378,tFnet]});
panel({xd:[0,4.5], yd:[0,4.5], xr:[59,339], yr:[740,534], xt:ticksE, yt:ticksE, pts:pointsE, r:1.3, diag:diagE, intTicks:true,
  lab:['E',1,545], xtit:[202,778,Fzpeak], ytit:[24,637,FzFx0]});
panel({xd:[0,3.5], yd:[0,3.5], xr:[427,703], yr:[740,536], xt:ticksF, yt:ticksF, pts:runF.concat(walkF), r:1.3, diag:diagF, intTicks:true,
  annot:annotF, lab:['F',359,548], xtit:[572,778,Fzpeak], ytit:[384,636,FzFx0]});
</script>
</body></html>
